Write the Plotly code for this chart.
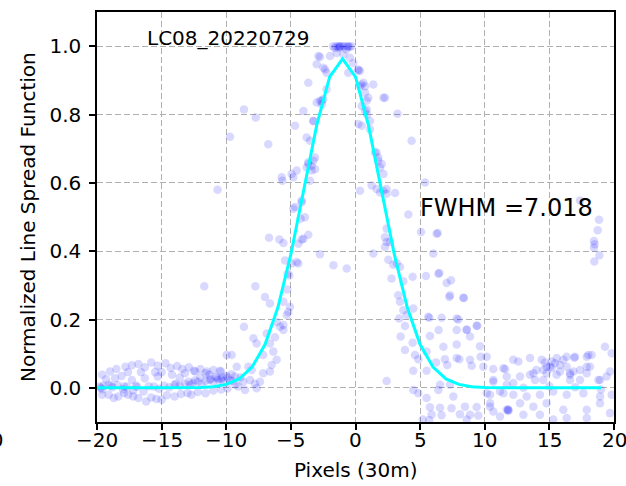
import plotly.graph_objects as go

# ---- fitted Gaussian LSF (sampled at integer pixel offsets) ----
curve_x = list(range(-20, 20))
curve_y = [0.0, 0.0, 0.0, 0.0, 0.0, 0.0, 0.0001, 0.0003, 0.0011, 0.0034,
           0.0101, 0.0262, 0.0610, 0.1268, 0.2357, 0.3912, 0.5801, 0.7689, 0.9103, 0.963,
           0.9103, 0.7689, 0.5801, 0.3912, 0.2357, 0.1268, 0.0610, 0.0262, 0.0101, 0.0034,
           0.0011, 0.0003, 0.0001, 0.0, 0.0, 0.0, 0.0, 0.0, 0.0, 0.0]

left_band = [
    (-19.6, 0.038), (-19.0, 0.048), (-18.5, 0.055), (-17.8, 0.062), (-17.3, 0.066), (-16.8, 0.070),
    (-16.3, 0.060), (-15.8, 0.074), (-15.3, 0.065), (-14.7, 0.072), (-14.3, 0.058), (-13.8, 0.064),
    (-13.4, 0.055), (-12.9, 0.060), (-12.5, 0.050), (-12.0, 0.055), (-11.5, 0.048), (-11.0, 0.052),
    (-10.5, 0.050), (-9.97, 0.096),
    (-19.3, 0.025), (-18.6, 0.028), (-18.1, 0.035), (-17.6, 0.046), (-17.3, 0.023), (-16.6, 0.046),
    (-16.3, 0.028), (-15.5, 0.046), (-15.3, 0.033), (-15.0, 0.046), (-14.2, 0.038), (-13.6, 0.030),
    (-13.2, 0.043), (-12.4, 0.048), (-12.0, 0.030), (-11.6, 0.043), (-11.3, 0.038), (-10.8, 0.032),
    (-10.4, 0.048), (-10.0, 0.035), (-9.6, 0.040),
    (-19.8, 0.004), (-19.6, -0.005), (-19.5, 0.006), (-19.1, 0.009), (-18.8, 0.002), (-18.4, 0.008),
    (-18.0, -0.004), (-17.7, 0.004), (-17.2, -0.008), (-16.9, 0.003), (-16.4, -0.011), (-16.0, 0.005),
    (-15.6, 0.004), (-15.2, -0.003), (-14.8, 0.006), (-14.4, 0.002), (-14.0, 0.009), (-13.6, 0.006),
    (-13.2, 0.012), (-12.8, 0.008), (-12.6, 0.014), (-12.2, 0.018), (-11.9, 0.010), (-11.6, 0.020),
    (-11.3, 0.023), (-11.0, 0.018), (-10.7, 0.028), (-10.4, 0.025), (-10.2, 0.020), (-9.9, 0.030),
    (-9.7, 0.022), (-19.7, 0.000), (-18.9, 0.006), (-17.9, 0.004), (-17.0, 0.006), (-13.9, 0.012),
    (-12.9, 0.018), (-12.4, 0.022), (-11.2, 0.026), (-10.6, 0.024), (-10.3, 0.030),
    (-19.6, -0.020), (-19.1, -0.020), (-18.7, -0.030), (-18.35, -0.025), (-17.9, -0.015),
    (-17.6, -0.020), (-17.2, -0.025), (-16.8, -0.030), (-16.2, -0.040), (-15.8, -0.028),
    (-15.4, -0.033), (-15.0, -0.035), (-14.6, -0.022), (-14.0, -0.025), (-13.5, -0.018),
    (-13.0, -0.015), (-12.7, -0.020), (-12.2, -0.012), (-11.6, -0.016), (-11.0, -0.008),
    (-10.4, -0.005), (-9.9, -0.002),
]

rise = [
    (-9.58, 0.096), (-9.32, 0.033), (-9.19, 0.062), (-9.07, 0.004), (-8.68, 0.018), (-8.63, 0.179),
    (-8.55, -0.006), (-8.29, 0.062), (-8.16, 0.023), (-8.03, 0.052), (-7.90, 0.145), (-7.78, 0.012),
    (-7.75, 0.297), (-7.65, -0.001), (-7.65, 0.130), (-7.39, 0.018), (-7.14, 0.096), (-7.14, 0.043),
    (-7.00, 0.266), (-6.87, 0.159), (-6.62, 0.130), (-6.62, 0.048), (-6.62, 0.247), (-6.49, 0.067),
    (-6.36, 0.106), (-6.23, 0.148), (-6.10, 0.082), (-6.10, 0.193), (-5.84, 0.179), (-5.58, 0.169),
    (-5.58, 0.184), (-5.58, 0.252), (-5.32, 0.213), (-5.20, 0.222), (-5.07, 0.237), (-5.28, 0.288),
    (-5.12, 0.329), (-5.25, 0.334), (-4.94, 0.364), (-5.45, 0.373), (-4.55, 0.368), (-4.42, 0.364),
    (-1.71, 0.359), (-0.68, 0.349), (-2.75, 0.391), (-6.69, 0.439), (-5.89, 0.434), (-5.58, 0.424),
    (-3.65, 0.448), (-4.16, 0.434), (-4.42, 0.422), (-4.68, 0.529), (-4.16, 0.543), (-4.24, 0.495),
    (-4.81, 0.524), (-8.63, 0.815), (-7.72, 0.791), (-9.71, 0.735), (-6.75, 0.713), (-5.71, 0.616),
    (-5.66, 0.606), (-4.94, 0.626), (-10.67, 0.580), (-11.70, 0.297), (-9.5, 0.020), (-9.3, 0.010),
    (-8.9, 0.030), (-4.03, 0.436), (-4.17, 0.548), (-3.91, 0.499),
]

peak = [
    (-1.74, 1.0), (-1.5, 1.0), (-1.3, 1.0), (-1.2, 0.998), (-1.0, 1.0), (-0.85, 1.0), (-0.6, 1.0),
    (-0.45, 0.998), (-0.3, 1.0), (-1.6, 0.995), (-0.7, 0.99), (-1.2, 1.0), (-0.6, 0.998), (-1.3, 0.995),
    (-1.97, 0.971), (-1.46, 0.980), (-0.94, 0.976), (-0.43, 0.966), (-0.17, 0.951), (-0.56, 0.922),
    (-2.75, 0.968), (-3.0, 0.947), (-2.49, 0.937), (-2.24, 0.922), (0.22, 0.929), (0.48, 0.888),
    (0.74, 0.864), (0.35, 0.883), (1.38, 0.888), (0.87, 0.815), (2.16, 0.849), (3.25, 0.802),
    (0.74, 0.810), (-2.24, 0.874), (-2.49, 0.845), (-2.62, 0.840), (-3.0, 0.835), (-3.26, 0.781),
    (0.48, 0.767), (1.12, 0.781), (1.12, 0.757), (4.34, 0.723), (1.63, 0.689), (1.76, 0.665),
    (1.90, 0.645), (1.25, 0.592), (1.63, 0.582), (2.16, 0.577), (2.41, 0.568), (3.06, 0.570),
    (0.35, 0.577), (2.28, 0.849), (-2.6, 0.830), (0.9, 0.800), (0.22, 0.932), (0.35, 0.927),
    (0.61, 0.893), (0.74, 0.883), (0.99, 0.849), (0.87, 0.840), (0.48, 0.825), (0.22, 0.772),
    (1.51, 0.689), (1.76, 0.674), (2.03, 0.655), (2.16, 0.626), (2.41, 0.582), (1.9, 0.572),
    (-2.87, 0.971), (-2.36, 0.932), (-2.75, 0.840), (-3.78, 0.733), (-3.65, 0.660), (-3.39, 0.650),
    (-3.52, 0.606), (-3.65, 0.893), (-4.03, 0.810), (-4.68, 0.767), (-3.52, 0.723), (-3.13, 0.674),
    (-3.65, 0.655), (-4.55, 0.636), (-3.39, 0.636), (-4.81, 0.616), (-3.26, 0.665), (-3.13, 0.640),
    (-3.78, 0.645), (-3.26, 0.781),
]

fall = [
    (4.09, 0.507), (2.41, 0.466), (2.28, 0.441), (2.41, 0.427), (5.07, 0.456), (6.36, 0.453),
    (1.38, 0.393), (6.02, 0.393), (2.54, 0.375), (3.19, 0.365), (2.92, 0.360), (3.44, 0.354),
    (2.79, 0.320), (3.70, 0.312), (4.42, 0.325), (5.45, 0.327), (6.49, 0.336), (7.05, 0.307),
    (7.39, 0.315), (7.26, 0.266), (8.39, 0.263), (3.31, 0.271), (3.44, 0.252), (3.70, 0.227),
    (4.48, 0.232), (3.96, 0.213), (3.38, 0.203), (3.83, 0.181), (5.71, 0.205), (6.66, 0.205),
    (7.83, 0.203), (7.96, 0.200), (9.37, 0.182), (3.49, 0.150), (5.76, 0.152), (6.80, 0.120),
    (7.83, 0.127), (8.60, 0.171), (8.86, 0.150), (9.63, 0.122), (4.42, 0.132), (3.83, 0.111),
    (4.60, 0.096), (4.86, 0.084), (5.50, 0.106), (6.23, 0.074), (7.10, 0.067), (6.92, 0.084),
    (7.83, 0.087), (8.03, 0.084), (8.86, 0.082), (8.99, 0.065), (9.68, 0.091), (4.47, 0.050),
    (5.50, 0.050), (2.41, 0.020), (6.54, 0.009), (7.31, 0.009), (4.47, -0.006), (4.86, -0.016),
    (5.50, -0.030), (6.41, -0.006), (7.57, -0.025), (5.76, -0.057), (6.54, -0.058), (7.43, -0.060),
    (8.47, -0.055), (9.37, -0.056), (5.89, -0.078), (6.66, -0.080), (8.08, -0.077), (8.86, -0.079),
    (9.50, -0.081), (5.2, -0.093), (5.7, -0.094), (8.6, -0.093), (5.38, 0.601), (6.28, 0.451),
    (6.43, 0.169), (7.83, 0.169), (8.6, 0.169), (5.63, 0.208), (9.42, 0.182), (2.67, 0.427),
    (2.28, 0.412), (6.41, 0.334), (8.34, 0.264), (7.31, 0.271),
]

right_band = [
    (10.15, 0.091), (11.44, 0.057), (12.6, 0.077), (13.5, 0.087), (14.41, 0.082), (15.05, 0.062),
    (15.44, 0.072), (15.57, 0.087), (16.34, 0.091), (16.98, 0.091), (17.89, 0.091), (18.27, 0.096),
    (19.30, 0.120), (19.82, 0.101), (19.69, 0.048), (18.92, 0.023), (17.89, 0.062), (16.6, 0.038),
    (15.82, 0.048), (14.79, 0.043), (13.76, 0.043), (12.73, 0.033), (11.70, 0.033), (10.66, 0.023),
    (10.15, -0.016), (11.18, -0.011), (12.21, -0.020), (13.24, -0.025), (14.27, -0.020),
    (15.30, -0.011), (16.34, -0.020), (17.63, -0.016), (18.92, -0.025), (19.82, -0.020),
    (10.41, -0.045), (11.70, -0.064), (12.73, -0.045), (13.76, -0.055), (14.79, -0.045),
    (16.08, -0.064), (17.89, -0.064), (18.92, -0.045), (19.69, -0.074), (11.18, -0.084),
    (12.99, -0.079), (14.27, -0.079), (15.30, -0.093), (16.34, -0.088), (17.89, -0.088),
    (11.83, -0.066), (11.83, -0.066), (11.80, -0.063),
    (9.89, 0.062), (10.66, 0.055), (11.57, 0.055), (10.66, 0.018), (11.70, 0.009), (12.21, 0.014),
    (10.41, -0.020), (11.44, -0.016), (10.41, -0.055), (10.66, -0.069),
    (13.5, 0.038), (13.89, 0.023), (14.53, 0.052), (14.79, 0.062), (15.17, 0.057), (15.56, 0.038),
    (15.82, 0.067), (16.34, 0.062), (16.6, 0.043), (16.86, 0.048), (17.37, 0.052), (17.89, 0.043),
    (18.14, 0.062), (16.6, 0.023), (17.37, 0.023), (14.53, 0.023), (18.79, 0.023), (19.43, 0.033),
    (14.0, 0.052), (12.2, 0.082), (16.93, 0.088), (16.08, 0.082), (15.17, 0.077), (14.66, 0.074),
    (18.01, 0.096), (13.0, 0.0), (15.0, 0.005), (17.0, 0.002), (19.0, -0.005),
    (17.37, 0.548), (18.84, 0.492), (18.74, 0.461), (18.45, 0.430), (18.5, 0.420), (18.45, 0.410),
    (18.87, 0.388), (18.48, 0.370),
]

samples = left_band + rise + peak + fall + right_band
sample_x = [p[0] for p in samples]
sample_y = [p[1] for p in samples]

x_ticks = [-20, -15, -10, -5, 0, 5, 10, 15, 20]
x_ticktext = ["\u221220", "\u221215", "\u221210", "\u22125", "0", "5", "10", "15", "20"]
y_ticks = [0.0, 0.2, 0.4, 0.6, 0.8, 1.0]
y_ticktext = ["0.0", "0.2", "0.4", "0.6", "0.8", "1.0"]

FONT = "DejaVu Sans"
TICK_LABEL_Y = -0.044  # paper y of the x tick-label row

fig = go.Figure()
fig.add_trace(go.Scatter(
    x=sample_x, y=sample_y, mode="markers",
    marker=dict(color="blue", size=8.5, opacity=0.15, line=dict(width=0)),
    hoverinfo="skip",
))
fig.add_trace(go.Scatter(
    x=curve_x, y=curve_y, mode="lines",
    line=dict(color="cyan", width=3),
))

axis_common = dict(
    showline=True, linecolor="black", linewidth=1.5, mirror=True,
    ticks="outside", ticklen=6, tickwidth=1.5, tickcolor="black",
    showgrid=True, gridcolor="#b0b0b0", gridwidth=1, griddash="6px,3px",
    zeroline=False, automargin=False,
    tickfont=dict(family=FONT, size=20, color="black"),
)

# the last x tick label sits at the very edge of the page; plotly drops it,
# so draw the tick labels as annotations tied to the x axis values
x_label_annotations = [
    dict(x=v, y=TICK_LABEL_Y, xref="x", yref="paper", text=t, showarrow=False,
         xanchor="center", yanchor="middle", font=dict(family=FONT, size=20, color="black"))
    for v, t in zip(x_ticks, x_ticktext)
]

fig.update_layout(
    width=626, height=486,
    margin=dict(l=97, r=12, t=12, b=64, autoexpand=False),
    paper_bgcolor="white", plot_bgcolor="white",
    showlegend=False,
    font=dict(family=FONT, color="black"),
    xaxis=dict(range=[-20, 20], tickmode="array", tickvals=x_ticks, showticklabels=False,
               **axis_common),
    yaxis=dict(range=[-0.1, 1.1], tickmode="array", tickvals=y_ticks, ticktext=y_ticktext,
               ticklabelstandoff=4, **axis_common),
    annotations=x_label_annotations + [
        dict(x=0.5, y=-0.117, xref="paper", yref="paper", text="Pixels (30m)",
             showarrow=False, xanchor="center", yanchor="middle",
             font=dict(family=FONT, size=20, color="black")),
        dict(x=-0.1335, y=0.5, xref="paper", yref="paper", text="Normalized Line Spread Function",
             showarrow=False, textangle=-90, xanchor="center", yanchor="middle",
             font=dict(family=FONT, size=20, color="black")),
        dict(x=-16, y=1.0, xref="x", yref="y", text="LC08_20220729", showarrow=False,
             xanchor="left", yanchor="bottom", xshift=-4, yshift=-6,
             font=dict(family=FONT, size=20, color="black")),
        dict(x=5, y=0.5, xref="x", yref="y", text="FWHM =7.018", showarrow=False,
             xanchor="left", yanchor="bottom", xshift=-2, yshift=-7,
             font=dict(family=FONT, size=24, color="black")),
        dict(x=-0.178, y=TICK_LABEL_Y, xref="paper", yref="paper", text="20", showarrow=False,
             xanchor="right", yanchor="middle", font=dict(family=FONT, size=20, color="black")),
    ],
)

fig.write_html("out.html", config={"displayModeBar": False},
               post_script="document.body.style.margin='0';")
